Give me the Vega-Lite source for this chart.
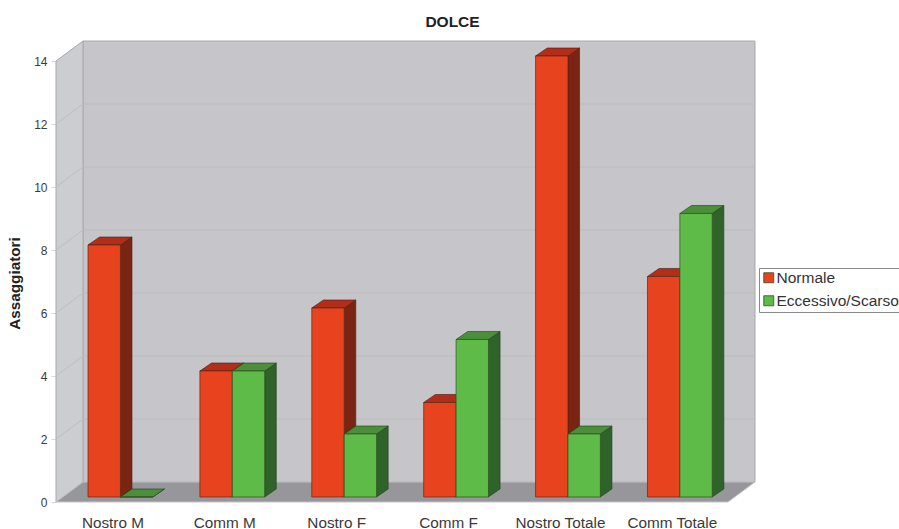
{
  "$schema": "https://vega.github.io/schema/vega-lite/v6.json",
  "width": 699,
  "height": 461,
  "autosize": {"type": "none"},
  "padding": {"left": 56, "top": 41, "right": 144, "bottom": 27},
  "background": "white",
  "title": {"text": "DOLCE", "font": "Liberation Sans", "fontSize": 15.5, "fontWeight": "bold", "color": "#222222", "anchor": "middle", "dx": 47, "offset": 9},
  "config": {"view": {"stroke": null}},
  "datasets": {
    "bars": [
      {"group": "Nostro M", "series": "Normale", "value": 8},
      {"group": "Nostro M", "series": "Eccessivo/Scarso", "value": 0},
      {"group": "Comm M", "series": "Normale", "value": 4},
      {"group": "Comm M", "series": "Eccessivo/Scarso", "value": 4},
      {"group": "Nostro F", "series": "Normale", "value": 6},
      {"group": "Nostro F", "series": "Eccessivo/Scarso", "value": 2},
      {"group": "Comm F", "series": "Normale", "value": 3},
      {"group": "Comm F", "series": "Eccessivo/Scarso", "value": 5},
      {"group": "Nostro Totale", "series": "Normale", "value": 14},
      {"group": "Nostro Totale", "series": "Eccessivo/Scarso", "value": 2},
      {"group": "Comm Totale", "series": "Normale", "value": 7},
      {"group": "Comm Totale", "series": "Eccessivo/Scarso", "value": 9}
    ],
    "levels": [{"level": 2}, {"level": 4}, {"level": 6}, {"level": 8}, {"level": 10}, {"level": 12}, {"level": 14}],
    "edges": [{"edge": 0}, {"edge": 1}]
  },
  "layer": [
    {
      "description": "Back wall of the box, carrying the value axis and the category axis",
      "data": {"name": "edges"},
      "transform": [{"filter": "datum.edge === 0"}, {"calculate": "-0.0447", "as": "xa"}, {"calculate": "5.961", "as": "xb"}, {"calculate": "0.635", "as": "ya"}, {"calculate": "14.635", "as": "yb"}],
      "mark": {"type": "rect", "fill": "#C6C6CA", "stroke": "#A9A9AD", "strokeWidth": 1},
      "encoding": {
        "x": {
          "field": "xa", "type": "quantitative",
          "scale": {"domain": [-0.286, 5.961], "nice": false, "zero": false},
          "axis": {
            "title": null, "domain": false, "ticks": false, "grid": false,
            "values": [0.218, 1.218, 2.218, 3.218, 4.218, 5.218],
            "labelExpr": "['Nostro M','Comm M','Nostro F','Comm F','Nostro Totale','Comm Totale'][round(datum.value - 0.218)]",
            "labelFont": "Liberation Sans", "labelFontSize": 15.3, "labelColor": "#3A3A3A", "labelPadding": 13, "labelOverlap": false, "labelFlush": false
          }
        },
        "x2": {"field": "xb"},
        "y": {
          "field": "ya", "type": "quantitative",
          "scale": {"domain": [0, 14.635], "nice": false, "zero": false},
          "axis": {
            "title": "Assaggiatori", "titleFont": "Liberation Sans", "titleFontSize": 15.3, "titleFontWeight": "bold", "titleColor": "#222222", "titlePadding": 11, "titleY": 242,
            "domain": false, "grid": false, "values": [0, 2, 4, 6, 8, 10, 12, 14],
            "tickColor": "#D8D8D8", "tickSize": 5,
            "labelFont": "Liberation Sans", "labelFontSize": 12, "labelColor": "#3A3A3A", "labelPadding": 4
          }
        },
        "y2": {"field": "yb"}
      }
    },
    {
      "description": "Left wall",
      "data": {"name": "edges"},
      "transform": [{"calculate": "-0.286 + datum.edge * 0.2413", "as": "xx"}, {"calculate": "14 + datum.edge * 0.635", "as": "ya"}, {"calculate": "datum.edge * 0.635", "as": "yb"}],
      "mark": {"type": "area", "fill": "#CBCDD0", "stroke": "#A9A9AD", "strokeWidth": 1},
      "encoding": {
        "x": {"field": "xx", "type": "quantitative", "scale": {"domain": [-0.286, 5.961], "nice": false, "zero": false}},
        "y": {"field": "ya", "type": "quantitative", "scale": {"domain": [0, 14.635], "nice": false, "zero": false}},
        "y2": {"field": "yb"}
      }
    },
    {
      "description": "Floor",
      "data": {"name": "edges"},
      "transform": [{"calculate": "datum.edge * 0.635", "as": "yy"}, {"calculate": "-0.286 + datum.edge * 0.2413", "as": "xa"}, {"calculate": "5.719 + datum.edge * 0.242", "as": "xb"}],
      "mark": {"type": "area", "orient": "horizontal", "fill": "#97979B", "stroke": "#C4C4C8", "strokeWidth": 1},
      "encoding": {
        "y": {"field": "yy", "type": "quantitative", "scale": {"domain": [0, 14.635], "nice": false, "zero": false}},
        "x": {"field": "xa", "type": "quantitative", "scale": {"domain": [-0.286, 5.961], "nice": false, "zero": false}},
        "x2": {"field": "xb"}
      }
    },
    {
      "description": "Gridlines across the back wall",
      "data": {"name": "levels"},
      "transform": [{"calculate": "datum.level + 0.635", "as": "yy"}, {"calculate": "-0.0447", "as": "xa"}, {"calculate": "5.961", "as": "xb"}, {"filter": "datum.level < 14"}],
      "mark": {"type": "rule", "stroke": "#BCBCC0", "strokeWidth": 1},
      "encoding": {
        "y": {"field": "yy", "type": "quantitative", "scale": {"domain": [0, 14.635], "nice": false, "zero": false}},
        "x": {"field": "xa", "type": "quantitative", "scale": {"domain": [-0.286, 5.961], "nice": false, "zero": false}},
        "x2": {"field": "xb"}
      }
    },
    {
      "description": "Gridlines running up the left wall",
      "data": {"name": "levels"},
      "transform": [{"calculate": "datum.level + 0.635", "as": "y2v"}, {"calculate": "-0.286", "as": "xa"}, {"calculate": "-0.0447", "as": "xb"}, {"filter": "datum.level < 14"}],
      "mark": {"type": "rule", "stroke": "#BDBFC2", "strokeWidth": 1},
      "encoding": {
        "y": {"field": "level", "type": "quantitative", "scale": {"domain": [0, 14.635], "nice": false, "zero": false}},
        "y2": {"field": "y2v"},
        "x": {"field": "xa", "type": "quantitative", "scale": {"domain": [-0.286, 5.961], "nice": false, "zero": false}},
        "x2": {"field": "xb"}
      }
    },
    {
      "description": "Red bars: side",
      "data": {"name": "bars"},
      "transform": [
        {"filter": "datum.series === 'Normale'"},
        {"calculate": "indexof(['Nostro M','Comm M','Nostro F','Comm F','Nostro Totale','Comm Totale'], datum.group)", "as": "i"},
        {"calculate": "datum.i", "as": "xl"},
        {"calculate": "datum.i + 0.2895", "as": "xr"},
        {"calculate": "datum.value + 0.159", "as": "yt"},
        {"calculate": "0.159", "as": "yb"},
        {"calculate": "[0, 1]", "as": "edge"},
        {"flatten": ["edge"]},
        {"calculate": "datum.xr + datum.edge * 0.1037", "as": "sx"},
        {"calculate": "datum.yt + datum.edge * 0.254", "as": "sa"},
        {"calculate": "datum.yb + datum.edge * 0.254", "as": "sb"}
      ],
      "mark": {"type": "area", "fill": "#7A2513", "stroke": "#4A1D12", "strokeWidth": 0.6},
      "encoding": {
        "x": {"field": "sx", "type": "quantitative", "scale": {"domain": [-0.286, 5.961], "nice": false, "zero": false}},
        "y": {"field": "sa", "type": "quantitative", "scale": {"domain": [0, 14.635], "nice": false, "zero": false}},
        "y2": {"field": "sb"},
        "detail": {"field": "group"}
      }
    },
    {
      "description": "Red bars: top",
      "data": {"name": "bars"},
      "transform": [
        {"filter": "datum.series === 'Normale'"},
        {"calculate": "indexof(['Nostro M','Comm M','Nostro F','Comm F','Nostro Totale','Comm Totale'], datum.group)", "as": "i"},
        {"calculate": "datum.i", "as": "xl"},
        {"calculate": "datum.i + 0.2895", "as": "xr"},
        {"calculate": "datum.value + 0.159", "as": "yt"},
        {"calculate": "[0, 1]", "as": "edge"},
        {"flatten": ["edge"]},
        {"calculate": "datum.yt + datum.edge * 0.254", "as": "ty"},
        {"calculate": "datum.xl + datum.edge * 0.1037", "as": "ta"},
        {"calculate": "datum.xr + datum.edge * 0.1037", "as": "tb"}
      ],
      "mark": {"type": "area", "orient": "horizontal", "fill": "#B32E19", "stroke": "#4A1D12", "strokeWidth": 0.6},
      "encoding": {
        "y": {"field": "ty", "type": "quantitative", "scale": {"domain": [0, 14.635], "nice": false, "zero": false}},
        "x": {"field": "ta", "type": "quantitative", "scale": {"domain": [-0.286, 5.961], "nice": false, "zero": false}},
        "x2": {"field": "tb"},
        "detail": {"field": "group"}
      }
    },
    {
      "description": "Red front faces, which also carry the legend",
      "data": {"name": "bars"},
      "transform": [
        {"filter": "datum.series === 'Normale'"},
        {"calculate": "indexof(['Nostro M','Comm M','Nostro F','Comm F','Nostro Totale','Comm Totale'], datum.group)", "as": "i"},
        {"calculate": "datum.i", "as": "xl"},
        {"calculate": "datum.i + 0.2895", "as": "xr"},
        {"calculate": "datum.value + 0.159", "as": "yt"},
        {"calculate": "0.159", "as": "yb"}
      ],
      "mark": {"type": "rect", "stroke": "#5A2A18", "strokeWidth": 0.7},
      "encoding": {
        "x": {"field": "xl", "type": "quantitative", "scale": {"domain": [-0.286, 5.961], "nice": false, "zero": false}},
        "x2": {"field": "xr"},
        "y": {"field": "yt", "type": "quantitative", "scale": {"domain": [0, 14.635], "nice": false, "zero": false}},
        "y2": {"field": "yb"},
        "color": {
          "field": "series", "type": "nominal",
          "scale": {"domain": ["Normale", "Eccessivo/Scarso"], "range": ["#E8431F", "#5EBB47"]},
          "legend": {
            "orient": "none", "legendX": 703, "legendY": 227, "title": null,
            "fillColor": "white", "strokeColor": "#8A8A8A", "padding": 2,
            "symbolType": "square", "symbolSize": 100, "symbolStrokeColor": "#444444", "symbolStrokeWidth": 0.8,
            "labelFont": "Liberation Sans", "labelFontSize": 15.5, "labelColor": "#333333", "labelOffset": 0, "rowPadding": 6, "labelLimit": 140
          }
        }
      }
    },
    {
      "description": "Green bars: side",
      "data": {"name": "bars"},
      "transform": [
        {"filter": "datum.series === 'Eccessivo/Scarso'"},
        {"calculate": "indexof(['Nostro M','Comm M','Nostro F','Comm F','Nostro Totale','Comm Totale'], datum.group)", "as": "i"},
        {"calculate": "datum.i + 0.579", "as": "xr"},
        {"calculate": "datum.value + 0.159", "as": "yt"},
        {"calculate": "0.159", "as": "yb"},
        {"calculate": "[0, 1]", "as": "edge"},
        {"flatten": ["edge"]},
        {"calculate": "datum.xr + datum.edge * 0.1037", "as": "sx"},
        {"calculate": "datum.yt + datum.edge * 0.254", "as": "sa"},
        {"calculate": "datum.yb + datum.edge * 0.254", "as": "sb"}
      ],
      "mark": {"type": "area", "fill": "#2F632A", "stroke": "#1F3F1C", "strokeWidth": 0.6},
      "encoding": {
        "x": {"field": "sx", "type": "quantitative", "scale": {"domain": [-0.286, 5.961], "nice": false, "zero": false}},
        "y": {"field": "sa", "type": "quantitative", "scale": {"domain": [0, 14.635], "nice": false, "zero": false}},
        "y2": {"field": "sb"},
        "detail": {"field": "group"}
      }
    },
    {
      "description": "Green bars: top",
      "data": {"name": "bars"},
      "transform": [
        {"filter": "datum.series === 'Eccessivo/Scarso'"},
        {"calculate": "indexof(['Nostro M','Comm M','Nostro F','Comm F','Nostro Totale','Comm Totale'], datum.group)", "as": "i"},
        {"calculate": "datum.i + 0.2895", "as": "xl"},
        {"calculate": "datum.i + 0.579", "as": "xr"},
        {"calculate": "datum.value + 0.159", "as": "yt"},
        {"calculate": "[0, 1]", "as": "edge"},
        {"flatten": ["edge"]},
        {"calculate": "datum.yt + datum.edge * 0.254", "as": "ty"},
        {"calculate": "datum.xl + datum.edge * 0.1037", "as": "ta"},
        {"calculate": "datum.xr + datum.edge * 0.1037", "as": "tb"}
      ],
      "mark": {"type": "area", "orient": "horizontal", "fill": "#4B8F3A", "stroke": "#1F3F1C", "strokeWidth": 0.6},
      "encoding": {
        "y": {"field": "ty", "type": "quantitative", "scale": {"domain": [0, 14.635], "nice": false, "zero": false}},
        "x": {"field": "ta", "type": "quantitative", "scale": {"domain": [-0.286, 5.961], "nice": false, "zero": false}},
        "x2": {"field": "tb"},
        "detail": {"field": "group"}
      }
    },
    {
      "description": "Green front faces",
      "data": {"name": "bars"},
      "transform": [
        {"filter": "datum.series === 'Eccessivo/Scarso'"},
        {"calculate": "indexof(['Nostro M','Comm M','Nostro F','Comm F','Nostro Totale','Comm Totale'], datum.group)", "as": "i"},
        {"calculate": "datum.i + 0.2895", "as": "xl"},
        {"calculate": "datum.i + 0.579", "as": "xr"},
        {"calculate": "datum.value + 0.159", "as": "yt"},
        {"calculate": "0.159", "as": "yb"}
      ],
      "mark": {"type": "rect", "stroke": "#2E4F22", "strokeWidth": 0.7},
      "encoding": {
        "x": {"field": "xl", "type": "quantitative", "scale": {"domain": [-0.286, 5.961], "nice": false, "zero": false}},
        "x2": {"field": "xr"},
        "y": {"field": "yt", "type": "quantitative", "scale": {"domain": [0, 14.635], "nice": false, "zero": false}},
        "y2": {"field": "yb"},
        "color": {"field": "series", "type": "nominal", "scale": {"domain": ["Normale", "Eccessivo/Scarso"], "range": ["#E8431F", "#5EBB47"]}}
      }
    }
  ]
}
